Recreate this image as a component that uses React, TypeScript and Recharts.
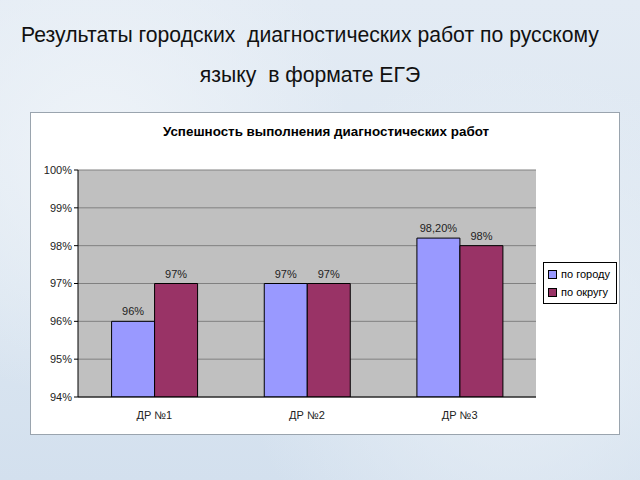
import React from 'react';
import {
  BarChart,
  Bar,
  XAxis,
  YAxis,
  CartesianGrid,
  LabelList,
} from 'recharts';

const categories = ['ДР №1', 'ДР №2', 'ДР №3'];
const cityValues = [96, 97, 98.2];
const districtValues = [97, 97, 98];
const cityLabels = ['96%', '97%', '98,20%'];
const districtLabels = ['97%', '97%', '98%'];
const yTicks = [94, 95, 96, 97, 98, 99, 100];

const CITY_COLOR = '#9999ff';
const DISTRICT_COLOR = '#993366';
const FONT = '"Liberation Sans", Arial, sans-serif';

const data = categories.map((name, i) => ({
  name,
  city: cityValues[i],
  district: districtValues[i],
  cityLabel: cityLabels[i],
  districtLabel: districtLabels[i],
}));

const legendItems = [
  { label: 'по городу', color: CITY_COLOR },
  { label: 'по округу', color: DISTRICT_COLOR },
];

const LegendBox = () => (
  <div
    style={{
      position: 'absolute',
      left: 512,
      top: 149,
      width: 74,
      boxSizing: 'border-box',
      border: '1px solid #000',
      background: '#fff',
      padding: '2px 4px',
      fontSize: 11,
      fontFamily: FONT,
      color: '#000',
      lineHeight: '18px',
    }}
  >
    {legendItems.map((item) => (
      <div key={item.label} style={{ display: 'flex', alignItems: 'center' }}>
        <span
          style={{
            display: 'inline-block',
            width: 7,
            height: 7,
            background: item.color,
            border: '1px solid #000',
            marginRight: 4,
          }}
        />
        {item.label}
      </div>
    ))}
  </div>
);

const App: React.FC = () => {
  return (
    <div
      style={{
        position: 'absolute',
        left: 0,
        top: 0,
        width: 640,
        height: 480,
        overflow: 'hidden',
        fontFamily: FONT,
        background:
          'radial-gradient(circle at 15% 30%, #eef3f8 0%, rgba(238,243,248,0) 40%), radial-gradient(circle at 80% 70%, #e8eff6 0%, rgba(232,239,246,0) 45%), linear-gradient(180deg, #e3ebf4 0%, #dbe6f1 60%, #d3e0ee 100%)',
      }}
    >
      <div
        style={{
          position: 'absolute',
          left: 0,
          width: 620,
          top: 15,
          textAlign: 'center',
          fontSize: 21.2,
          color: '#111',
          lineHeight: '40px',
        }}
      >
        Результаты городских&nbsp; диагностических работ по русскому
        <br />
        языку&nbsp; в формате ЕГЭ
      </div>

      <div
        style={{
          position: 'absolute',
          left: 30,
          top: 112,
          width: 590,
          height: 323,
          background: '#fff',
          border: '1px solid #9aa4ae',
          boxSizing: 'border-box',
        }}
      >
        <div
          style={{
            position: 'absolute',
            left: 0,
            width: 590,
            top: 11,
            textAlign: 'center',
            fontWeight: 'bold',
            fontSize: 13.4,
            color: '#000',
          }}
        >
          Успешность выполнения диагностических работ
        </div>
        <BarChart
          width={588}
          height={321}
          data={data}
          margin={{ top: 57, right: 83, bottom: 7, left: 7 }}
          barGap={0}
          barCategoryGap="22%"
        >
          <CartesianGrid
            vertical={false}
            stroke="#808080"
            fill="#c0c0c0"
            fillOpacity={1}
          />
          <XAxis
            dataKey="name"
            height={30}
            axisLine={{ stroke: '#000' }}
            tickLine={false}
            tick={{ fontSize: 11, fill: '#222', fontFamily: FONT }}
            tickMargin={8}
          />
          <YAxis
            width={40}
            domain={[94, 100]}
            ticks={yTicks}
            interval={0}
            allowDataOverflow
            tickFormatter={(v: number) => `${v}%`}
            axisLine={{ stroke: '#000' }}
            tickLine={{ stroke: '#000' }}
            tickSize={4}
            tick={{ fontSize: 11, fill: '#222', fontFamily: FONT }}
          />
          <Bar
            dataKey="city"
            name="по городу"
            fill={CITY_COLOR}
            stroke="#000"
            strokeWidth={1}
            isAnimationActive={false}
          >
            <LabelList
              dataKey="cityLabel"
              position="top"
              offset={6}
              style={{ fontSize: 11, fill: '#222', fontFamily: FONT }}
            />
          </Bar>
          <Bar
            dataKey="district"
            name="по округу"
            fill={DISTRICT_COLOR}
            stroke="#000"
            strokeWidth={1}
            isAnimationActive={false}
          >
            <LabelList
              dataKey="districtLabel"
              position="top"
              offset={6}
              style={{ fontSize: 11, fill: '#222', fontFamily: FONT }}
            />
          </Bar>
        </BarChart>
        <LegendBox />
      </div>
    </div>
  );
};

export default App;
